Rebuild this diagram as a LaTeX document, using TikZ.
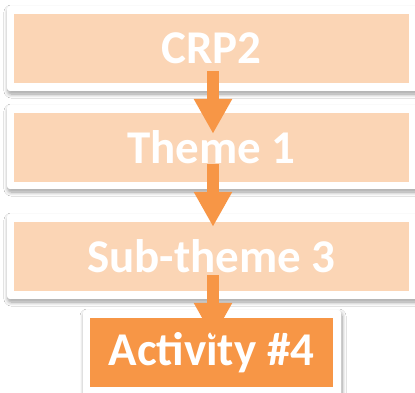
\documentclass[tikz,border=0pt]{standalone}
\usepackage{fontspec}
\setmainfont{Carlito}
\usetikzlibrary{arrows.meta,calc,shadows.blur}
\definecolor{peach}{HTML}{FBD5B5}
\definecolor{orng}{HTML}{F79646}
\begin{document}
\begin{tikzpicture}[x=1bp,y=-1bp,
  frame/.style={fill=white,rounded corners=3bp,
    blur shadow={shadow xshift=1bp,shadow yshift=-3bp,shadow blur radius=4bp,shadow blur steps=8,shadow opacity=40}},
  level/.style={fill=peach,inner sep=0pt,minimum height=69bp,text=white,
    font=\bfseries\fontsize{47bp}{52bp}\selectfont},
  wide/.style={level,minimum width=395bp},
  act/.style={level,fill=orng,minimum width=243bp},
  arr/.style={draw=orng,line width=12bp,-{Triangle[length=35bp,width=36bp]}}]
\path[use as bounding box,clip] (0,0) rectangle (415,393);
\fill[white] (0,0) rectangle (415,393);
% frames
\path[frame] (7,6) rectangle (424,91);
\path[frame] (7,105) rectangle (424,189);
\path[frame] (7,214) rectangle (424,299);
\path[frame] (83,310) rectangle (341,402);
% boxes
\node[wide] (crp) at (211.5,48.5) {CRP2};
\node[wide] (t1) at (211.5,147.5) {Theme 1};
\node[wide] (st) at (211.5,256.5) {Sub-theme 3};
\node[act] (a4) at (211.5,352.5) {Activity \#4};
% arrows
\draw[arr] ($(crp.south)+(1.5,-12)$) -- ($(t1.north)+(1.5,21)$);
\draw[arr] ($(t1.south)+(1.5,-18)$) -- ($(st.north)+(1.5,5)$);
\draw[arr] ($(st.south)+(1.5,-16)$) -- ($(a4.north)+(1.5,20)$);
\end{tikzpicture}
\end{document}
